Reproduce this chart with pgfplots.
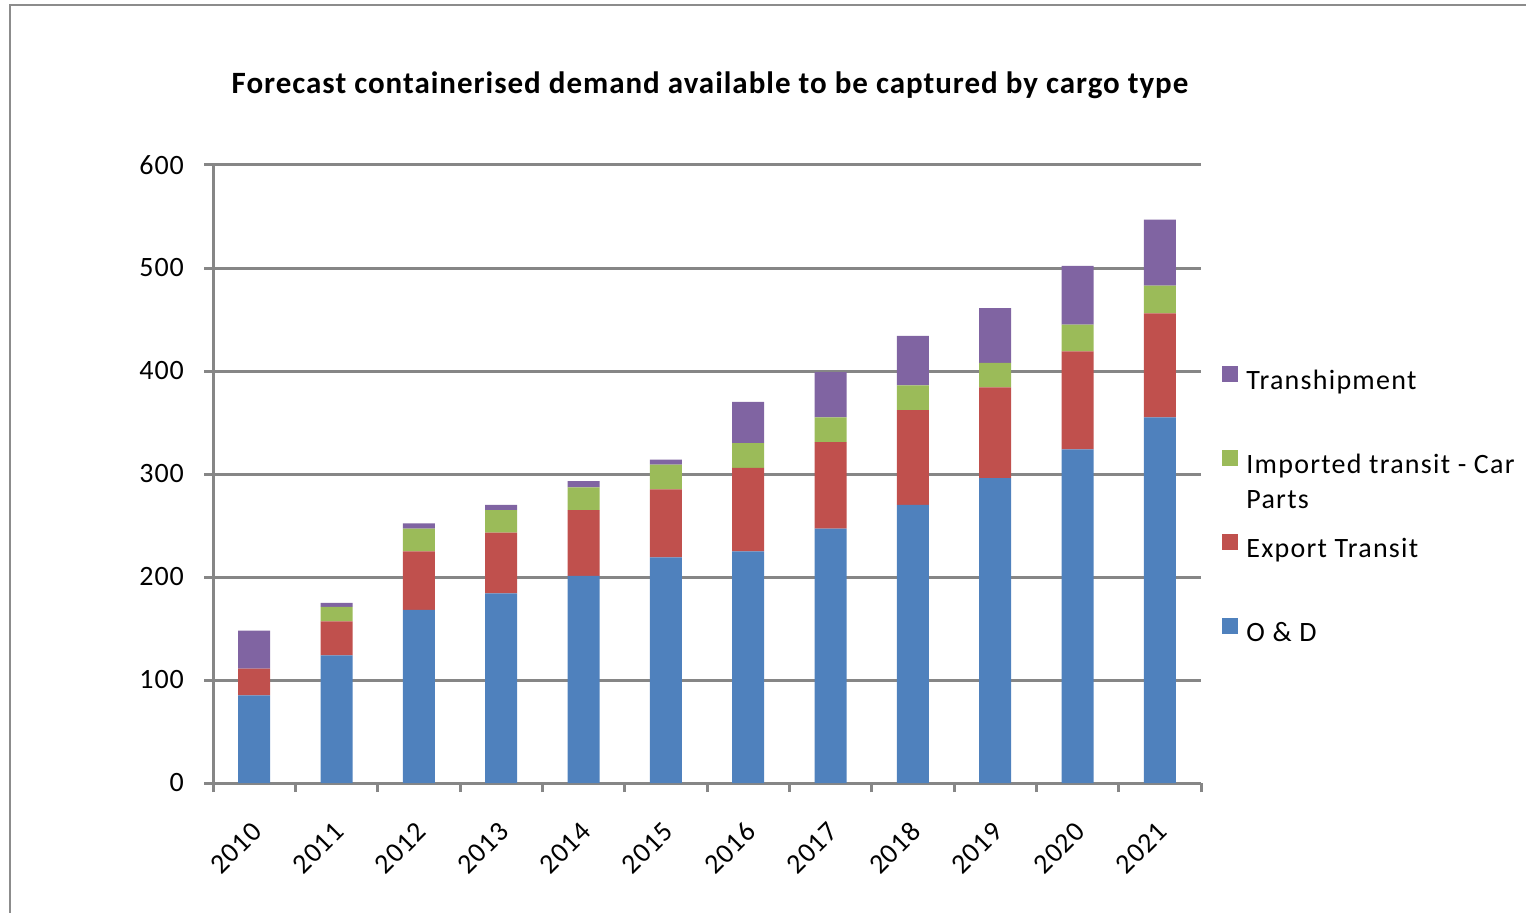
\documentclass[border=0pt]{standalone}
\usepackage{pgfplots}
\pgfplotsset{compat=1.18}
\usepackage{fontspec}
\setmainfont{Carlito}
\newfontfamily\titlefont[LetterSpace=3.2]{Carlito}
\newfontfamily\tickfont[LetterSpace=3.5]{Carlito}
\newfontfamily\legfont[LetterSpace=4.5]{Carlito}
\definecolor{cOD}{HTML}{4F81BD}
\definecolor{cET}{HTML}{C0504D}
\definecolor{cIT}{HTML}{9BBB59}
\definecolor{cTS}{HTML}{8064A2}
\definecolor{gridgray}{HTML}{868686}
\definecolor{framegray}{HTML}{8C8C8C}
\pgfplotstableread{
x OD ET IT TS
0 85 26 0 37
1 124 33 14 4
2 168 57 22 5
3 184 59 22 5
4 201 64 22 6
5 219 66 24 5
6 225 81 24 40
7 247 84 24 44
8 270 92 24 48
9 296 88 24 53
10 324 95 26 57
11 355 101 27 64
}\datatable
\begin{document}
\begin{tikzpicture}[x=1pt,y=1pt]
\useasboundingbox (0,0) rectangle (763,456);
\draw[framegray, line width=1pt] (5,-5) -- (5,453.3) -- (770,453.3);
\node[font=\titlefont\fontsize{15.5}{18}\selectfont\bfseries] at (355,413.5) {Forecast containerised demand available to be captured by cargo type};
\begin{axis}[
  at={(106.5pt,64.5pt)}, anchor=south west,
  scale only axis, width=494pt, height=309pt,
  ybar stacked, bar width=16pt,
  xmin=-0.5, xmax=11.5, ymin=0, ymax=600,
  ytick={0,100,...,600},
  xtick={-0.5,0.5,...,11.5},
  xticklabels={2010,2011,2012,2013,2014,2015,2016,2017,2018,2019,2020,2021,{}},
  axis lines*=left,
  axis line style={gridgray, line width=1.5pt},
  ymajorgrids, grid style={gridgray, line width=1.5pt},
  tick align=outside, major tick length=4.5pt,
  tick style={gridgray, line width=1.5pt},
  ticklabel style={font=\tickfont\fontsize{14}{16}\selectfont},
  /pgf/number format/assume math mode=true,
  xticklabel style={xshift=24.5pt, yshift=-15pt, rotate=45, anchor=east},
  yticklabel style={xshift=-6.5pt},
  reverse legend,
  legend style={at={(1.0213,0.676)}, anchor=north west, draw=none, fill=none,
    inner sep=0pt, row sep=27pt, column sep=4pt,
    font=\legfont\fontsize{14}{17.5}\selectfont,
    nodes={inner sep=0pt, text height=10pt, text depth=3pt}},
  legend cell align=left,
  legend image code/.code={\fill[#1] (0pt,0.5pt) rectangle (8pt,8.5pt);},
]
\addplot[fill=cOD, draw=none] table[x=x,y=OD] {\datatable};
\addplot[fill=cET, draw=none] table[x=x,y=ET] {\datatable};
\addplot[fill=cIT, draw=none] table[x=x,y=IT] {\datatable};
\addplot[fill=cTS, draw=none] table[x=x,y=TS] {\datatable};
\addlegendentry{O \& D}
\addlegendentry{Export Transit}
\addlegendentry{\parbox[t]{150pt}{Imported transit - Car\\[0pt]Parts}}
\addlegendentry{Transhipment}
\end{axis}
\end{tikzpicture}
\end{document}
